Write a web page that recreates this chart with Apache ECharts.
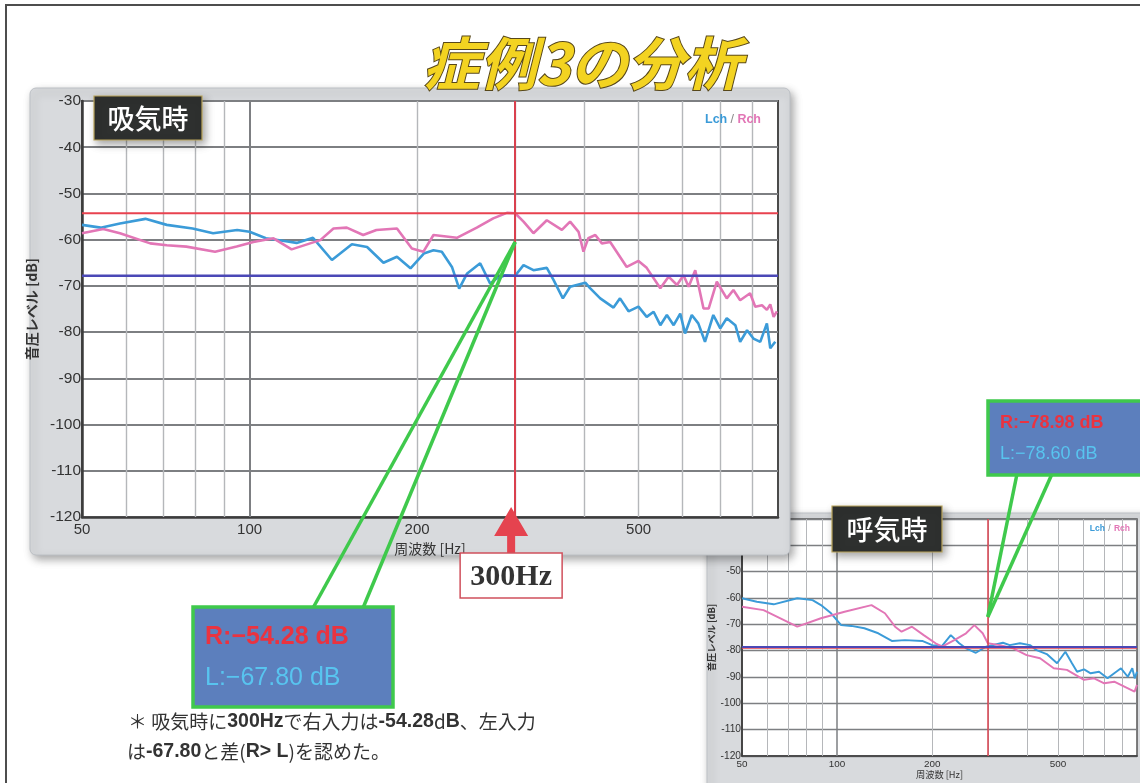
<!DOCTYPE html>
<html>
<head>
<meta charset="utf-8">
<script src="https://cdn.jsdelivr.net/npm/echarts@6/dist/echarts.min.js"></script>
<style>
  html, body { margin: 0; padding: 0; background: #fff; }
  #chart { width: 1140px; height: 783px; }
</style>
</head>
<body>
<div id="chart"></div>
<script>
// ---- axes ----
const FREQ_MIN = 50, FREQ_MAX = 890;
const DB_MIN = -120, DB_MAX = -30;
const freqTicks = [50, 100, 200, 500];
const gridFreqs = [60, 70, 80, 90, 100, 200, 300, 400, 500, 600, 700, 800];
const cursorFreq = 300;

// ---- 吸気時 (inhale) spectra [Hz, dB] ----
const inhaleL = [[50,-56.8],[54,-57.4],[58.5,-56.5],[65,-55.5],[71,-56.8],[79,-57.6],[86,-58.6],[95,-57.9],[100,-58.3],[107,-59.7],[117,-60.4],[121.5,-60.7],[130,-59.6],[140.6,-64.4],[152.7,-61],[162.6,-61.6],[174,-65],[184,-63.7],[194.6,-66.2],[205.6,-63],[214,-62.3],[221.5,-62.6],[231,-65.9],[238,-70.6],[246,-67.3],[259.6,-65.1],[270.6,-69.5],[278,-68.4],[288,-67.7],[300,-67.8],[310.6,-65.5],[323.6,-66.6],[342,-66.1],[351.6,-68.7],[365.5,-72.7],[376.6,-70.2],[401,-69.3],[409,-70.5],[426.6,-72.7],[450.7,-74.7],[463,-72.7],[479.6,-75.5],[499.7,-74.5],[517,-76.7],[532,-75.6],[547,-78.5],[562,-76.3],[578,-78.5],[594,-76],[606,-80.3],[623,-76.3],[640,-78.1],[658,-82.1],[681,-76.3],[701,-79.2],[720,-77],[746,-78.5],[761,-82.1],[783,-79.6],[804,-81.4],[827,-82.1],[850,-78.1],[862,-83.5],[880,-82.1]];
const inhaleR = [[50,-58.6],[54.6,-57.7],[58.5,-58.6],[66.3,-60.8],[71,-61.2],[77,-61.5],[86.7,-62.6],[94.8,-61.5],[101.6,-60.5],[110.4,-59.7],[119,-62.1],[128.5,-60.8],[134,-60.1],[141.5,-57.6],[149.5,-57.4],[160,-59],[169,-57.9],[184,-57.6],[195.7,-61.9],[205.3,-62.6],[214,-59],[235.7,-59.6],[256,-57.4],[274,-55.4],[290,-54.2],[300,-54.28],[310.6,-56.1],[323.6,-58.6],[342,-55.8],[364,-57.9],[376.6,-56.1],[390,-58.3],[398,-62.6],[406,-59.7],[418,-59],[429.5,-60.8],[444.5,-60.5],[476,-65.9],[499.7,-64.6],[517,-66.1],[547,-70.5],[566,-68],[586,-69.8],[602,-67.7],[615,-70.2],[632,-66.6],[654,-74.9],[668,-74.9],[691,-69.1],[720,-72.7],[740,-70.9],[761,-73.1],[793,-71.6],[810,-74.5],[833,-74.2],[850,-75.2],[862,-74],[874,-76.7],[886,-75.5]];
const inhaleLevelR = -54.28;
const inhaleLevelL = -67.80;
const inhalePointer = -60.5;

// ---- 呼気時 (exhale) spectra [Hz, dB] ----
const exhaleL = [[50,-60.1],[55.7,-61.4],[63,-62.4],[74.8,-60.1],[83.6,-60.8],[88.9,-62.7],[95.7,-65.8],[103,-70.3],[111,-70.6],[122,-71.5],[135,-73.4],[149,-76.3],[164,-76],[186,-76.3],[200,-77.9],[215,-78.2],[229,-74.1],[243.5,-77.2],[256,-79.1],[275,-80.8],[296,-78.5],[300,-78.6],[335,-77],[352,-77.9],[379,-77.2],[408,-77.9],[428,-79.8],[461,-81.3],[497,-84.8],[528,-80.4],[554,-84.8],[575,-88],[605,-87.1],[635,-88.6],[675,-88],[718,-90.5],[754,-88.6],[792,-86.7],[832,-89.9],[860,-86.7],[875,-90.5],[890,-88]];
const exhaleR = [[50,-63.3],[58.5,-64.6],[74.8,-70.9],[88.9,-67.7],[105.6,-65.2],[128.5,-62.7],[141.7,-65.8],[152.6,-70.9],[160,-72.8],[172.6,-70.9],[188,-74.1],[205,-77.2],[215,-78.5],[235,-76],[256,-73.4],[272,-70.3],[289,-73.4],[300,-77.2],[327,-77.9],[361,-79.1],[398,-81.7],[439,-82.9],[485,-86.7],[534,-87.3],[605,-91.1],[651,-90.5],[701,-92.4],[754,-91.8],[812,-93.7],[874,-95.6],[890,-93]];
const exhaleLevelR = -78.98;
const exhaleLevelL = -78.60;
const exhalePointer = -67.2;

// ---- colours / fonts ----
const C = {
  lch: '#3b9bd8', rch: '#e276b6', levelR: '#e8424f', levelL: '#4b48b6',
  cursor: '#d9404e', green: '#3fc94c', boxFill: '#5c7fbd',
  textR: '#ea3340', textL: '#58c4ef', axis: '#3c3c3c', grid: '#7d7f82', minor: '#b5b7ba'
};
const SANS = '"Liberation Sans", "Noto Sans CJK JP", sans-serif';
const JP = '"Noto Sans CJK JP", "Liberation Sans", sans-serif';

const fmtLevel = (p, v) => p + ':\u2212' + Math.abs(v).toFixed(2) + ' dB';

function axesFor(gi, z, s) {
  return {
    x: {
      gridIndex: gi, type: 'log', logBase: 10, min: FREQ_MIN, max: FREQ_MAX, z: z,
      axisLine: { show: true, onZero: false, lineStyle: { color: C.axis, width: 2.5 * s } },
      axisTick: { show: false },
      splitLine: { show: false },
      axisLabel: {
        customValues: freqTicks, formatter: v => String(Math.round(v)),
        color: '#333', fontSize: 15 * s, fontFamily: SANS, margin: 5 * s
      },
      name: '周波数 [Hz]', nameLocation: 'middle', nameGap: 25 * s,
      nameTextStyle: { color: '#333', fontSize: 14 * s, fontFamily: JP }
    },
    y: {
      gridIndex: gi, type: 'value', min: DB_MIN, max: DB_MAX, interval: 10, z: z,
      axisLine: { show: true, onZero: false, lineStyle: { color: C.axis, width: 2.5 * s } },
      axisTick: { show: false },
      splitLine: { show: true, lineStyle: { color: C.grid, width: 2 * s } },
      axisLabel: { color: '#333', fontSize: 15.5 * s, fontFamily: SANS, margin: 1 },
      name: '音圧レベル [dB]', nameLocation: 'middle', nameGap: 42 * s, nameRotate: 90,
      nameTextStyle: { color: '#333', fontSize: 14 * s, fontWeight: 'bold', fontFamily: JP }
    }
  };
}

function seriesFor(gi, z, L, R, levR, levL, s) {
  return [
    { type: 'line', xAxisIndex: gi, yAxisIndex: gi, z: z, silent: true, showSymbol: false,
      data: [[FREQ_MIN, DB_MIN]], lineStyle: { opacity: 0 },
      markLine: { z: z, silent: true, symbol: 'none', label: { show: false }, animation: false,
        data: gridFreqs.map(f => ({ xAxis: f, lineStyle: {
          type: 'solid', color: f === 100 ? C.grid : C.minor, width: (f === 100 ? 2 : 1.4) * s } })) } },
    { name: 'Lch', type: 'line', xAxisIndex: gi, yAxisIndex: gi, z: z + 1, showSymbol: false,
      data: L, lineStyle: { color: C.lch, width: 2.6 * s }, itemStyle: { color: C.lch } },
    { name: 'Rch', type: 'line', xAxisIndex: gi, yAxisIndex: gi, z: z + 1, showSymbol: false,
      data: R, lineStyle: { color: C.rch, width: 2.6 * s }, itemStyle: { color: C.rch } },
    { name: 'R level', type: 'line', xAxisIndex: gi, yAxisIndex: gi, z: z + 2, showSymbol: false, silent: true,
      data: [[FREQ_MIN, levR], [FREQ_MAX, levR]], lineStyle: { color: C.levelR, width: 2.2 * s },
      markLine: { z: z + 2, silent: true, symbol: 'none', label: { show: false }, animation: false,
        data: [{ xAxis: cursorFreq, lineStyle: { type: 'solid', color: C.cursor, width: 2 * s } }] } },
    { name: 'L level', type: 'line', xAxisIndex: gi, yAxisIndex: gi, z: z + 2, showSymbol: false, silent: true,
      data: [[FREQ_MIN, levL], [FREQ_MAX, levL]], lineStyle: { color: C.levelL, width: 2.4 * s } }
  ];
}

const chart = echarts.init(document.getElementById('chart'), null, { renderer: 'canvas' });

// grid 0: 吸気時 (front), grid 1: 呼気時 (behind)
const aIn = axesFor(0, 7, 1);
const aEx = axesFor(1, 2, 0.66);
aEx.x.nameGap = 14; aEx.y.nameGap = 26;
aEx.x.axisLabel.margin = 3;

chart.setOption({
  animation: false,
  backgroundColor: '#ffffff',
  grid: [
    { left: 82, top: 101, width: 696, height: 416, show: true, backgroundColor: '#fff',
      borderColor: '#4a4a4a', borderWidth: 2, z: 7 },
    { left: 742, top: 519, width: 395, height: 237, show: true, backgroundColor: '#fff',
      borderColor: '#555', borderWidth: 1.5, z: 2 }
  ],
  xAxis: [aIn.x, aEx.x],
  yAxis: [aIn.y, aEx.y],
  series: [
    ...seriesFor(0, 8, inhaleL, inhaleR, inhaleLevelR, inhaleLevelL, 1),
    ...seriesFor(1, 3, exhaleL, exhaleR, exhaleLevelR, exhaleLevelL, 0.75)
  ]
});

// ---- annotations placed through the axes' own scales ----
const px = (gi, f, v) => chart.convertToPixel({ gridIndex: gi }, [f, v]);

const inCur = px(0, cursorFreq, DB_MIN);
const inPtr = px(0, cursorFreq, inhalePointer);
const exPtr = px(1, cursorFreq, exhalePointer);

const shadow = { shadowBlur: 8, shadowColor: 'rgba(0,0,0,0.35)', shadowOffsetX: 3, shadowOffsetY: 4 };

function tagBox(x, y, w, h, text, z) {
  return [
    { type: 'rect', z: z, shape: { x: x, y: y, width: w, height: h },
      style: Object.assign({ fill: '#2e302f', stroke: '#b9a45a', lineWidth: 1.2 }, shadow) },
    { type: 'text', z: z + 0.5, x: x + w / 2, y: y + h / 2 + 1,
      style: { text: text, fill: '#ffffff', font: '500 27px ' + JP, align: 'center', verticalAlign: 'middle' } }
  ];
}

function legendText(x, y, size, z) {
  return { type: 'text', z: z, x: x, y: y, style: {
    text: '{l|Lch} {s|/} {r|Rch}', align: 'right', verticalAlign: 'middle',
    rich: {
      l: { fill: C.lch, fontSize: size, fontFamily: SANS, fontWeight: 'bold' },
      s: { fill: '#888', fontSize: size, fontFamily: SANS },
      r: { fill: C.rch, fontSize: size, fontFamily: SANS, fontWeight: 'bold' }
    } } };
}

function callout(x, y, w, h, levR, levL, size, z) {
  return [
    { type: 'rect', z: z, shape: { x: x, y: y, width: w, height: h },
      style: { fill: C.boxFill, stroke: C.green, lineWidth: 3.5 } },
    { type: 'text', z: z + 0.5, x: x + 12, y: y + h * 0.3, style: {
      text: fmtLevel('R', levR), fill: C.textR, font: 'bold ' + size + 'px ' + SANS, verticalAlign: 'middle' } },
    { type: 'text', z: z + 0.5, x: x + 12, y: y + h * 0.71, style: {
      text: fmtLevel('L', levL), fill: C.textL, font: size + 'px ' + SANS, verticalAlign: 'middle' } }
  ];
}

const greenLine = (x1, y1, x2, y2, z) => ({ type: 'line', z: z,
  shape: { x1: x1, y1: y1, x2: x2, y2: y2 }, style: { stroke: C.green, lineWidth: 3.5 } });

const ax = inCur[0] - 4;            // arrow centre
const aTip = inCur[1] - 10;         // arrow tip, just inside the plot

const noteRich = { b: { fontFamily: SANS, fontWeight: 'bold', fontSize: 19.5, fill: '#333' } };

const graphics = [
  // page frame
  { type: 'polyline', z: 0, shape: { points: [[6, 800], [6, 5], [1150, 5]] },
    style: { stroke: '#4d4d4d', lineWidth: 2, fill: null } },
  // title
  { type: 'text', z: 12, x: 582, y: 63, style: {
    text: '症例3の分析', align: 'center', verticalAlign: 'middle',
    font: 'italic bold 57px ' + JP, fill: '#f3d321', stroke: '#57471a', lineWidth: 2 } },

  // 呼気時 panel (behind)
  { type: 'rect', z: 1, shape: { x: 707, y: 513, width: 460, height: 300, r: 6 },
    style: Object.assign({ fill: '#d8dadd', stroke: '#bcc0c5', lineWidth: 1 }, shadow) },
  ...tagBox(832, 506, 110, 46, '呼気時', 5),
  legendText(1130, 529, 8.5, 5),

  // 吸気時 panel (front)
  { type: 'rect', z: 6, shape: { x: 30, y: 88, width: 760, height: 467, r: 6 },
    style: Object.assign({ fill: '#d8dadd', stroke: '#bcc0c5', lineWidth: 1 }, shadow) },
  ...tagBox(94, 96, 108, 44, '吸気時', 11),
  legendText(761, 120, 12.5, 11),

  // 300Hz arrow and tag
  { type: 'polygon', z: 12, shape: { points: [
      [ax, aTip], [ax + 17, aTip + 29], [ax + 4, aTip + 29], [ax + 4, 553],
      [ax - 4, 553], [ax - 4, aTip + 29], [ax - 17, aTip + 29]] },
    style: { fill: '#e5434f' } },
  { type: 'rect', z: 12, shape: { x: ax - 51, y: 553, width: 102, height: 45 },
    style: { fill: '#ffffff', stroke: '#d0505c', lineWidth: 1.5 } },
  { type: 'text', z: 12.5, x: ax, y: 577, style: {
    text: cursorFreq + 'Hz', align: 'center', verticalAlign: 'middle',
    font: 'bold 30px "Liberation Serif", "DejaVu Serif", serif', fill: '#333' } },

  // inhale read-out
  greenLine(313, 608, inPtr[0], inPtr[1], 12),
  greenLine(363, 608, inPtr[0], inPtr[1], 12),
  ...callout(193, 607, 200, 100, inhaleLevelR, inhaleLevelL, 25, 12),

  // exhale read-out
  greenLine(1017, 474, exPtr[0], exPtr[1], 12),
  greenLine(1052, 474, exPtr[0], exPtr[1], 12),
  ...callout(988, 401, 170, 74, exhaleLevelR, exhaleLevelL, 18, 12),

  // note
  { type: 'text', z: 12, x: 128, y: 722, style: {
    text: '＊ 吸気時に{b|' + cursorFreq + 'Hz}で右入力は{b|' + inhaleLevelR.toFixed(2) + '}d{b|B}、左入力',
    verticalAlign: 'middle', fill: '#333', font: '19px ' + JP, rich: noteRich } },
  { type: 'text', z: 12, x: 127, y: 752, style: {
    text: 'は{b|' + inhaleLevelL.toFixed(2) + '}と差({b|R> L})を認めた。',
    verticalAlign: 'middle', fill: '#333', font: '19px ' + JP, rich: noteRich } }
];

chart.setOption({ graphic: graphics });
</script>
</body>
</html>
